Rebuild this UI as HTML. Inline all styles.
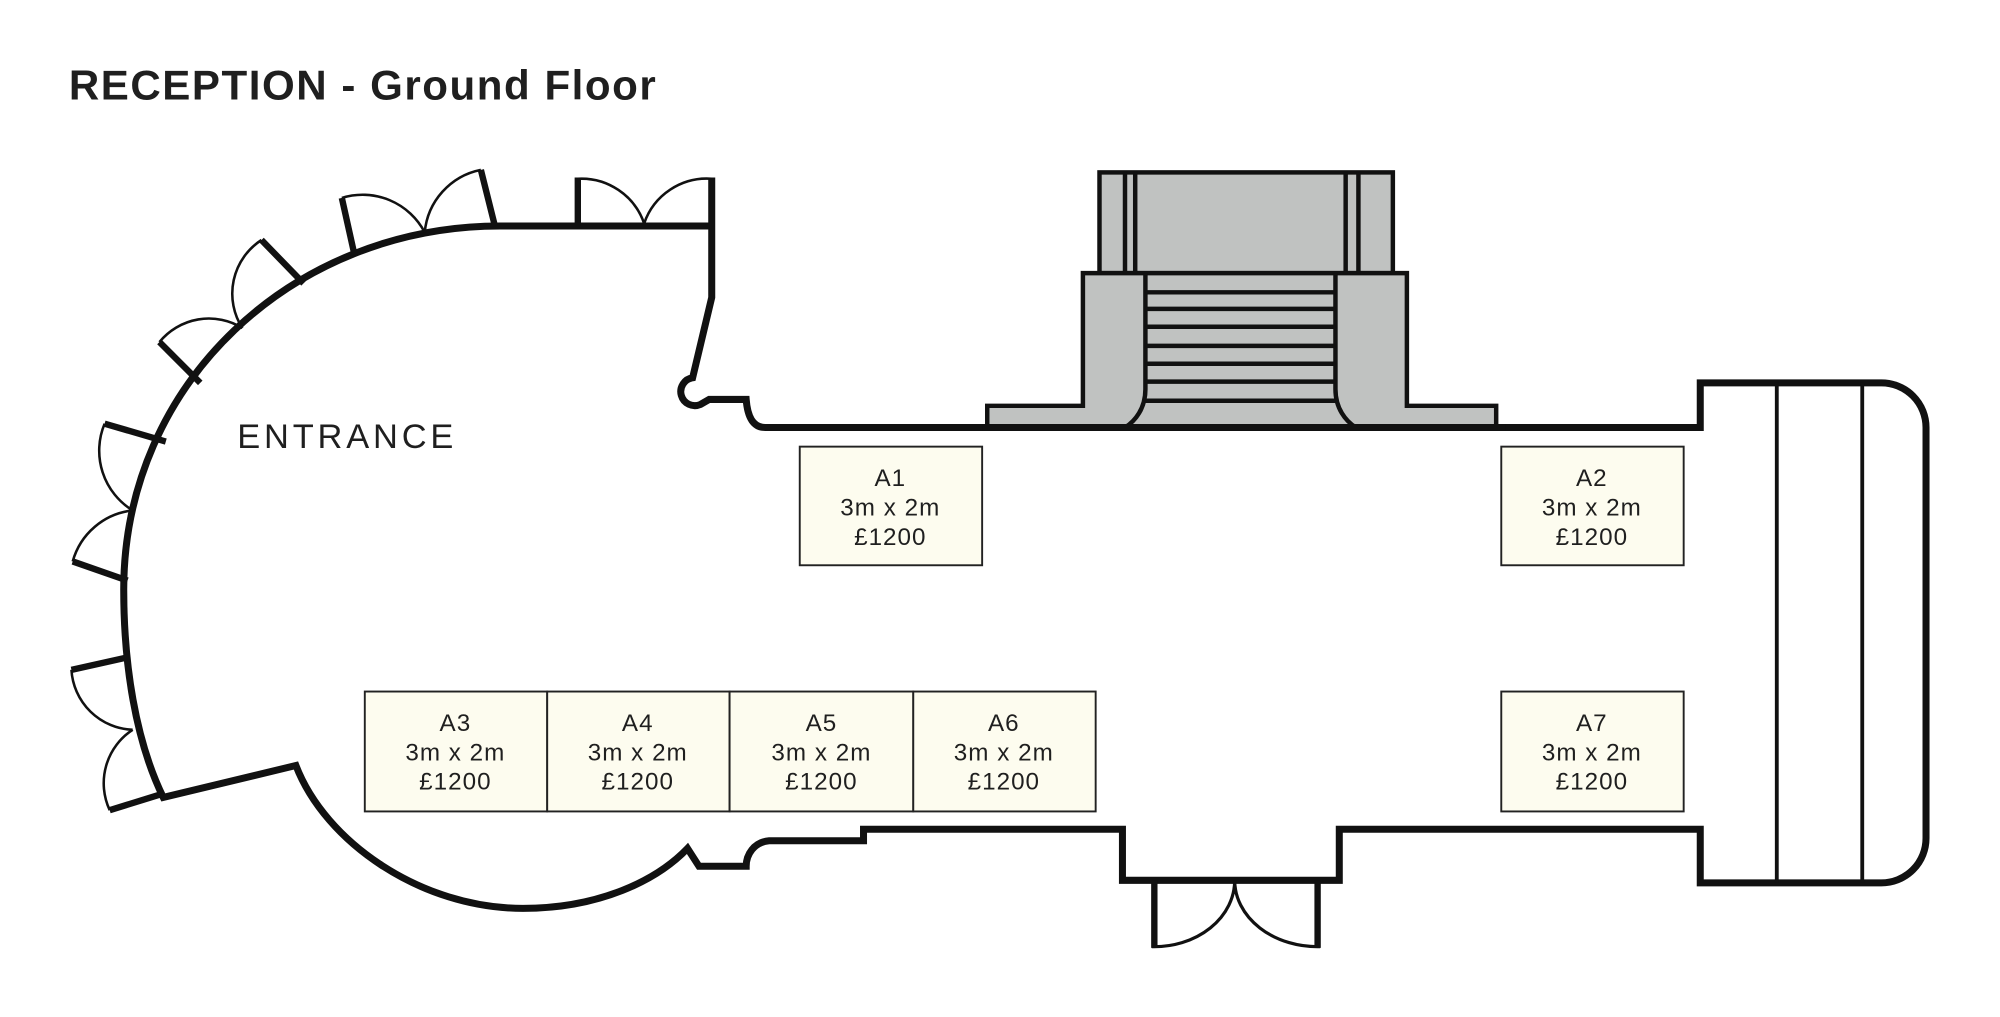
<!DOCTYPE html>
<html><head><meta charset="utf-8"><style>
html,body{margin:0;padding:0;background:#fff;}
svg{display:block;}
text{font-family:"Liberation Sans",sans-serif;fill:#1f1f1f;}
</style></head><body>
<svg width="2000" height="1017" viewBox="0 0 1568 797" xmlns="http://www.w3.org/2000/svg">
<text x="54" y="78" font-size="33" font-weight="600" letter-spacing="1.2">RECEPTION - Ground Floor</text>

<!-- main walls -->
<path d="M558,139 L558,233 L543,296 A11,11 0 1 0 549,317 L556,313 L585,313 C586,326 590,335 600,335 L1333,335 L1333,300 L1475,300 A35,35 0 0 1 1510,335 L1510,657 A35,35 0 0 1 1475,692 L1333,692 L1333,650 L1050,650 L1050,690 L880,690 L880,650 L677,650 L677,659 L603,659 C591,660 585,670 585,679 L548,679 L539,665 C515,690 470,712 410,712 C330,712 255,660 232,600 L128,625 C106,580 97,520 97,462 C97,300 230,177 392,177 L558,177"
 fill="#fff" stroke="#111" stroke-width="5.5" stroke-linejoin="miter"/>
<line x1="1393" y1="300" x2="1393" y2="692" stroke="#111" stroke-width="3"/>
<line x1="1460" y1="300" x2="1460" y2="692" stroke="#111" stroke-width="3"/>

<!-- top double door -->
<line x1="453" y1="139" x2="453" y2="177" stroke="#111" stroke-width="5"/>
<path d="M453,140 A52,52 0 0 1 505,175 M558,140 A52,52 0 0 0 505,175" fill="none" stroke="#111" stroke-width="2"/>

<!-- curved wall doors -->
<g stroke="#111" stroke-width="5" stroke-linecap="butt">
<line x1="278" y1="200" x2="268" y2="155"/><line x1="388" y1="177" x2="377" y2="133"/>
<line x1="157" y1="300" x2="125" y2="268"/><line x1="238" y1="222" x2="205" y2="188"/>
<line x1="130" y1="346" x2="82" y2="332"/><line x1="100" y1="455" x2="57" y2="440"/>
<line x1="101" y1="515" x2="56" y2="525"/><line x1="128" y1="622" x2="86" y2="635"/>
</g>
<g fill="none" stroke="#111" stroke-width="2">
<path d="M268,155 A55,55 0 0 1 333,182"/><path d="M377,133 A55,55 0 0 0 333,182"/>
<path d="M125,268 A50,50 0 0 1 190,257"/><path d="M205,188 A50,50 0 0 0 190,257"/>
<path d="M82,332 A55,55 0 0 0 104,400"/><path d="M57,440 A55,55 0 0 1 104,400"/>
<path d="M56,525 A50,50 0 0 0 104,572"/><path d="M86,635 A50,50 0 0 1 104,572"/>
</g>

<!-- bottom double door -->
<g stroke="#111" stroke-width="5"><line x1="905" y1="690" x2="905" y2="743"/><line x1="1033" y1="690" x2="1033" y2="743"/></g>
<path d="M903,742 A63,52 0 0 0 968,690 M1035,742 A65,52 0 0 1 968,690" fill="none" stroke="#111" stroke-width="2.5"/>

<!-- stairs -->
<g fill="#c0c2c1" stroke="#111" stroke-width="3.5">
<rect x="862" y="135" width="230" height="79"/>
<path d="M774,335 L774,318 L849,318 L849,214 L1103,214 L1103,318 L1173,318 L1173,335 Z"/>
</g>
<g stroke="#111" stroke-width="3.5" fill="none">
<line x1="882" y1="135" x2="882" y2="214"/><line x1="890" y1="135" x2="890" y2="214"/>
<line x1="1055" y1="135" x2="1055" y2="214"/><line x1="1065" y1="135" x2="1065" y2="214"/>
<path d="M898,214 L898,305 C898,320 890,330 882,335"/>
<path d="M1047,214 L1047,305 C1047,320 1055,330 1063,335"/>
<line x1="898" y1="229" x2="1047" y2="229"/><line x1="898" y1="242" x2="1047" y2="242"/>
<line x1="898" y1="256" x2="1047" y2="256"/><line x1="898" y1="271" x2="1047" y2="271"/>
<line x1="898" y1="285" x2="1047" y2="285"/><line x1="898" y1="299" x2="1047" y2="299"/>
<line x1="898" y1="314" x2="1047" y2="314"/>
</g>
<line x1="770" y1="335" x2="1180" y2="335" stroke="#111" stroke-width="5.5"/>

<text x="186" y="351" font-size="27" letter-spacing="3">ENTRANCE</text>

<!-- booths -->
<g fill="#fdfcef" stroke="#222" stroke-width="1.5">
<rect x="627" y="350" width="143" height="93"/>
<rect x="1177" y="350" width="143" height="93"/>
<rect x="286" y="542" width="143" height="94"/>
<rect x="429" y="542" width="143" height="94"/>
<rect x="572" y="542" width="144" height="94"/>
<rect x="716" y="542" width="143" height="94"/>
<rect x="1177" y="542" width="143" height="94"/>
</g>
<g font-size="19" text-anchor="middle" letter-spacing="0.8">
<text x="698" y="381">A1</text><text x="698" y="404">3m x 2m</text><text x="698" y="427">£1200</text>
<text x="1248" y="381">A2</text><text x="1248" y="404">3m x 2m</text><text x="1248" y="427">£1200</text>
<text x="357" y="573">A3</text><text x="357" y="596">3m x 2m</text><text x="357" y="619">£1200</text>
<text x="500" y="573">A4</text><text x="500" y="596">3m x 2m</text><text x="500" y="619">£1200</text>
<text x="644" y="573">A5</text><text x="644" y="596">3m x 2m</text><text x="644" y="619">£1200</text>
<text x="787" y="573">A6</text><text x="787" y="596">3m x 2m</text><text x="787" y="619">£1200</text>
<text x="1248" y="573">A7</text><text x="1248" y="596">3m x 2m</text><text x="1248" y="619">£1200</text>
</g>
</svg>
</body></html>
